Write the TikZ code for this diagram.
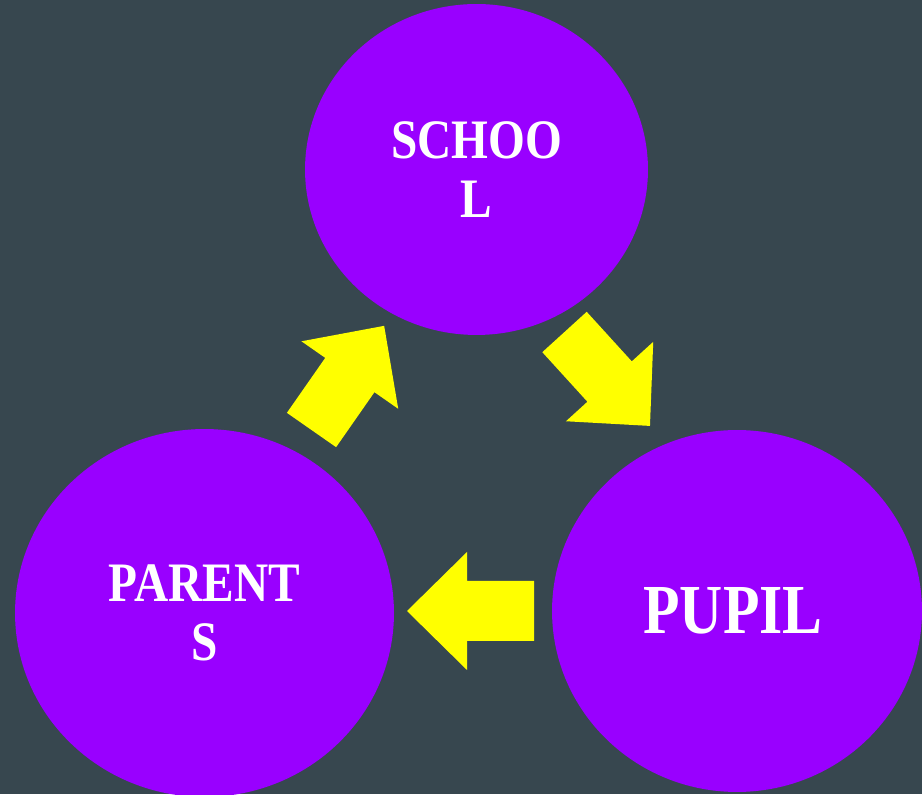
\documentclass[tikz,border=0pt]{standalone}
\usepackage{fontspec}
\setmainfont{Liberation Serif}
\usetikzlibrary{
    positioning,
    shapes.geometric
}
\definecolor{slate}{RGB}{55,71,79}
\definecolor{blobpurple}{RGB}{153,0,255}
\definecolor{arrowyellow}{RGB}{255,255,0}
\tikzset{
    blob/.style={ellipse, fill=blobpurple, inner sep=0pt},
    blobtext/.style={text=white, align=center, inner sep=0pt, xscale=0.85, transform shape,
        font=\bfseries\fontsize{31.7}{34}\selectfont},
    bigtext/.style={blobtext, font=\bfseries\fontsize{40}{44}\selectfont},
    blockarrow/.pic={
        \fill[arrowyellow] (0, -30) -- (67, -30) -- (67, -59) -- (127, 0) -- (67, 59) -- (67, 30) -- (0, 30) -- cycle;
    }
}

\begin{document}
\begin{tikzpicture}[x=0.02cm, y=0.02cm]
    \clip (0, 0) rectangle (922, 794);
    \fill[slate] (0, 0) rectangle (922, 794);

    \node[blob, minimum width=6.86cm, minimum height=6.62cm] (school) at (476.5, 624.5) {};
    \node[blob, minimum width=7.58cm, minimum height=7.36cm] (parents) at (204.5, 181) {};
    \node[blob, minimum width=7.40cm, minimum height=7.24cm] (pupil) at (737, 183) {};

    \node[blobtext] (schooltext) at (school) {SCHOO\\L};
    \node[blobtext] (parentstext) at (parents) {PARENT\\S};
    \node[bigtext] (pupiltext) at ([xshift=-0.08cm]pupil.center) {PUPIL};

    \pic[rotate=55.1] at (311.5, 364) {blockarrow};
    \pic[rotate=-47.7] at (564.5, 462) {blockarrow};
    \pic[rotate=180] at (534, 183) {blockarrow};
\end{tikzpicture}
\end{document}
